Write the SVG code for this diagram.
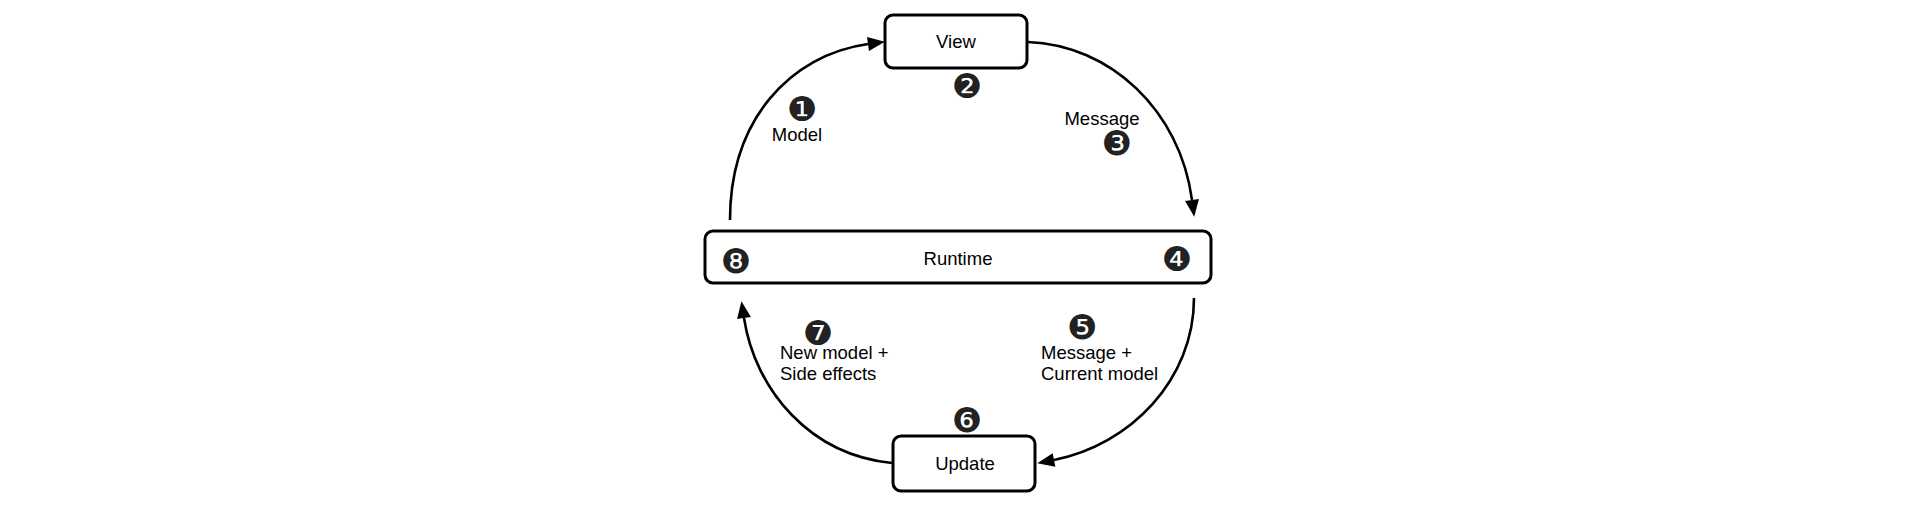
<svg xmlns="http://www.w3.org/2000/svg" width="1920" height="514" viewBox="0 0 1920 514">
<style>
.box{fill:#fff;stroke:#000;stroke-width:3}
.lbl{font-family:"Liberation Sans",Arial,sans-serif;font-size:18.5px;fill:#000}
.c{text-anchor:middle}
.badge{font-family:"DejaVu Sans",sans-serif;font-size:34px;fill:#222;text-anchor:middle}
.edge{fill:none;stroke:#000;stroke-width:2.6}
</style>
<defs>
<marker id="arr" markerUnits="userSpaceOnUse" markerWidth="20" markerHeight="16" viewBox="0 -8 18 16" refX="0" refY="0" orient="auto">
<path d="M0,-7 L17,0 L0,7 z" fill="#000"/>
</marker>
</defs>
<rect width="1920" height="514" fill="#fff"/>
<g id="connectors">
<path class="edge" d="M730,220 C730,120 790,55 868,44" marker-end="url(#arr)"/>
<path class="edge" d="M1028,42 C1110,45 1180,110 1192,200" marker-end="url(#arr)"/>
<path class="edge" d="M1194,298 C1194,380 1130,445 1054,460" marker-end="url(#arr)"/>
<path class="edge" d="M892,463 C810,455 755,390 744,318" marker-end="url(#arr)"/>
</g>
<g id="view">
<rect class="box" x="885" y="15" width="142" height="53" rx="8"/>
<text class="lbl c" x="956" y="48">View</text>
</g>
<g id="runtime">
<rect class="box" x="705" y="231" width="506" height="52" rx="8"/>
<text class="lbl c" x="958" y="265">Runtime</text>
</g>
<g id="update">
<rect class="box" x="893" y="436" width="142" height="55" rx="8"/>
<text class="lbl c" x="965" y="470">Update</text>
</g>
<g id="labels">
<text class="badge" x="802" y="121">❶</text>
<text class="lbl c" x="797" y="141">Model</text>
<text class="badge" x="967" y="98">❷</text>
<text class="lbl c" x="1102" y="125">Message</text>
<text class="badge" x="1117" y="155">❸</text>
<text class="badge" x="1177" y="271">❹</text>
<text class="badge" x="736" y="273">❽</text>
<text class="badge" x="1082" y="339">❺</text>
<text class="lbl" x="1041" y="359">Message +</text>
<text class="lbl" x="1041" y="380">Current model</text>
<text class="badge" x="967" y="432">❻</text>
<text class="badge" x="818" y="345">❼</text>
<text class="lbl" x="780" y="359">New model +</text>
<text class="lbl" x="780" y="380">Side effects</text>
</g>
</svg>
